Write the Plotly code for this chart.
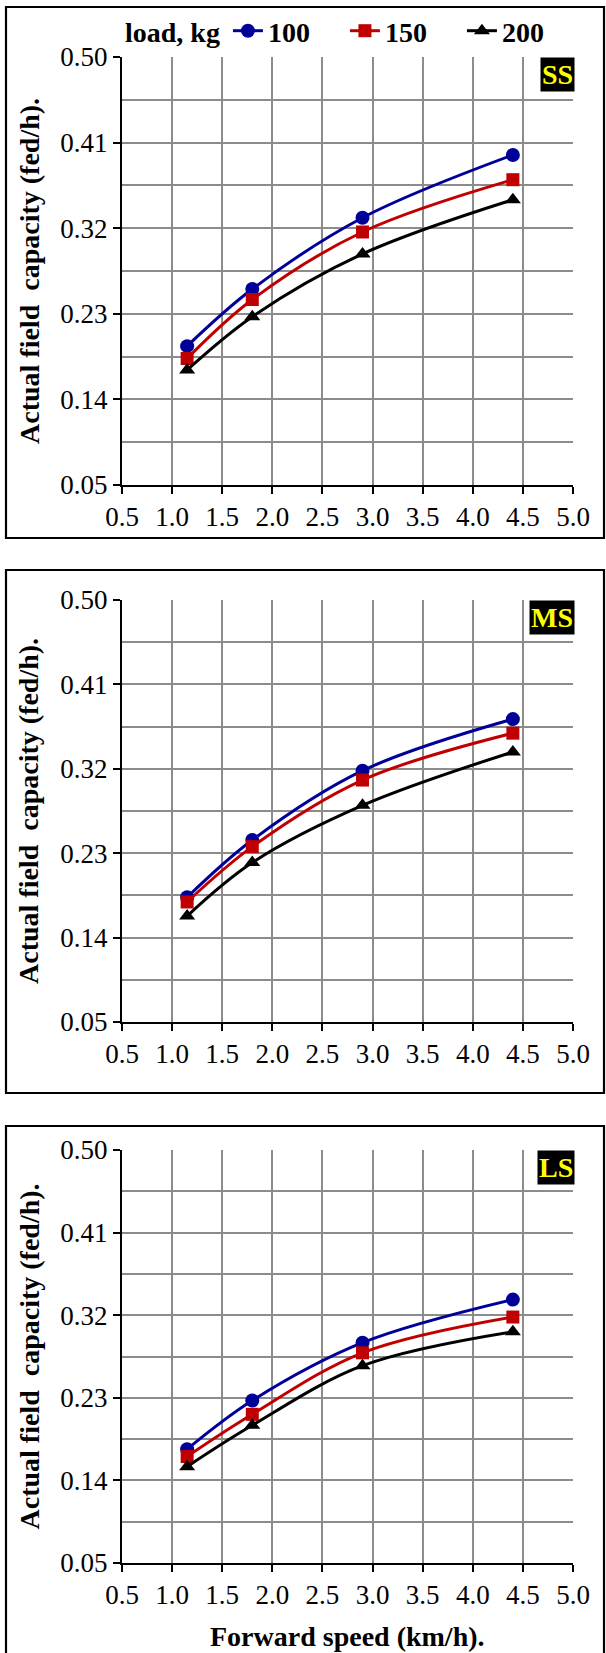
import plotly.graph_objects as go

# ---- data ----
speed = [1.15, 1.8, 2.9, 4.4]
loads = ["100", "150", "200"]
panels = ["SS", "MS", "LS"]
ss_100 = [0.196, 0.256, 0.331, 0.397]
ss_150 = [0.183, 0.245, 0.316, 0.371]
ss_200 = [0.171, 0.227, 0.293, 0.350]
ms_100 = [0.183, 0.244, 0.318, 0.373]
ms_150 = [0.178, 0.237, 0.308, 0.358]
ms_200 = [0.163, 0.220, 0.281, 0.338]
ls_100 = [0.174, 0.227, 0.290, 0.337]
ls_150 = [0.166, 0.212, 0.279, 0.318]
ls_200 = [0.155, 0.200, 0.265, 0.302]
y_ticks = [0.05, 0.14, 0.23, 0.32, 0.41, 0.50]
x_ticks = [0.5, 1.0, 1.5, 2.0, 2.5, 3.0, 3.5, 4.0, 4.5, 5.0]

panel_data = [
    [ss_100, ss_150, ss_200],
    [ms_100, ms_150, ms_200],
    [ls_100, ls_150, ls_200],
]

W, H = 606, 1653
FONT = "Liberation Serif"
colors = ["#000099", "#C00000", "#000000"]
symbols = ["circle", "square", "triangle-up"]
msizes = [14, 13, 14]

# pixel layout (top, bottom) of each plot area, and border boxes
plot_px = [(57, 485), (600, 1022), (1150, 1563)]
box_px = [(7, 538), (570, 1093), (1126, 1665)]
x_left, x_right = 122, 573
box_left, box_right = 6, 604


def py(v):
    return 1 - v / H


fig = go.Figure()

for i, (series, pname) in enumerate(zip(panel_data, panels)):
    xa = "x" if i == 0 else f"x{i+1}"
    ya = "y" if i == 0 else f"y{i+1}"
    for j, (vals, lname) in enumerate(zip(series, loads)):
        fig.add_trace(go.Scatter(
            x=speed, y=vals, name=lname, xaxis=xa, yaxis=ya,
            mode="lines+markers",
            line=dict(color=colors[j], width=3, shape="spline", smoothing=1.0),
            marker=dict(symbol=symbols[j], size=msizes[j], color=colors[j]),
            showlegend=(i == 0),
        ))
    top, bot = plot_px[i]
    axis_common = dict(
        showline=True, linecolor="black", linewidth=2,
        showgrid=True, gridcolor="#8c8c8c", gridwidth=1.6,
        ticks="outside", ticklen=7, tickwidth=2, tickcolor="black",
        tickfont=dict(family=FONT, size=27, color="black"),
        zeroline=False, mirror=False, automargin=False,
    )
    fig.layout[f"xaxis{'' if i == 0 else i+1}"] = dict(
        axis_common, domain=[x_left / W, x_right / W], anchor=ya,
        range=[0.5, 5.0], tickvals=x_ticks, tickformat=".1f",
    )
    fig.layout[f"yaxis{'' if i == 0 else i+1}"] = dict(
        axis_common, domain=[py(bot), py(top)], anchor=xa,
        range=[0.05, 0.50], tickvals=y_ticks, tickformat=".2f",
        minor=dict(tick0=0.05, dtick=0.045, showgrid=True,
                   gridcolor="#8c8c8c", gridwidth=1.6, ticks=""),
    )
    # panel border
    b0, b1 = box_px[i]
    fig.add_shape(type="rect", xref="paper", yref="paper",
                  x0=box_left / W, x1=box_right / W, y0=py(b1), y1=py(b0),
                  line=dict(color="black", width=2.2), fillcolor="rgba(0,0,0,0)")
    # panel label
    fig.add_annotation(
        text=f"<b>{pname}</b>", xref=f"{xa} domain", yref=f"{ya} domain",
        x=1.0, y=1.0, xanchor="right", yanchor="top", showarrow=False,
        font=dict(family=FONT, size=28, color="#FFFF00"),
        bgcolor="black", borderpad=1, xshift=2,
    )
    # y axis title
    fig.add_annotation(
        text="<b>Actual field  capacity (fed/h).</b>", xref="paper", yref="paper",
        x=29 / W, y=py((top + bot) / 2), textangle=-90, showarrow=False,
        xanchor="center", yanchor="middle",
        font=dict(family=FONT, size=28, color="black"),
    )

# x axis title (bottom panel)
fig.add_annotation(
    text="<b>Forward speed (km/h).</b>", xref="paper", yref="paper",
    x=(x_left + x_right) / 2 / W, y=py(1636), showarrow=False,
    xanchor="center", yanchor="middle",
    font=dict(family=FONT, size=28, color="black"),
)

fig.update_layout(
    width=W, height=H, margin=dict(l=0, r=0, t=0, b=0, pad=0, autoexpand=False),
    paper_bgcolor="white", plot_bgcolor="white",
    font=dict(family=FONT, color="black"),
    legend=dict(
        orientation="h", x=123 / W, y=py(31), xanchor="left", yanchor="middle",
        title=dict(text="<b>load, kg</b>", side="left",
                   font=dict(family=FONT, size=28, color="black")),
        font=dict(family=FONT, size=28, color="black", weight="bold"),
        bgcolor="rgba(0,0,0,0)", entrywidth=72, tracegroupgap=0,
    ),
)

fig.write_html(
    "out.html",
    config={"displayModeBar": False},
    post_script="document.body.style.margin='0';document.body.style.overflow='hidden';",
)
